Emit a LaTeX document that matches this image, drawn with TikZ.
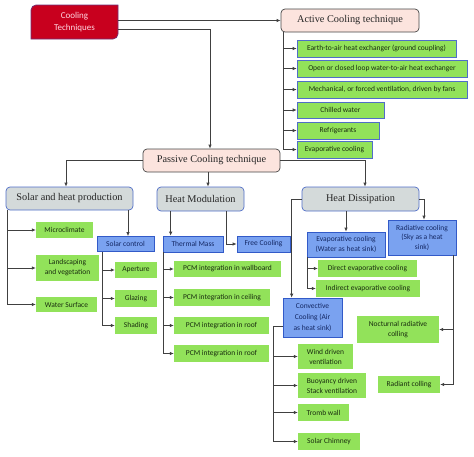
\documentclass[tikz,border=0pt]{standalone}
\usepackage{fontspec}
\setmainfont{Liberation Serif}
\newfontfamily\cfont{Carlito}
\usetikzlibrary{arrows.meta}
\definecolor{redf}{RGB}{200,0,30}
\definecolor{redb}{RGB}{112,48,120}
\definecolor{redt}{RGB}{255,215,225}
\definecolor{pinkf}{RGB}{252,228,222}
\definecolor{pinkb}{RGB}{70,70,70}
\definecolor{grayf}{RGB}{212,218,218}
\definecolor{grayb}{RGB}{80,110,200}
\definecolor{bluef}{RGB}{122,162,240}
\definecolor{blueb}{RGB}{50,90,200}
\definecolor{bluet}{RGB}{20,40,100}
\definecolor{grnf}{RGB}{146,226,90}
\definecolor{grnt}{RGB}{25,45,15}
\definecolor{lnc}{RGB}{64,64,64}
\tikzset{
  boxbase/.style={inner sep=0pt, align=center, anchor=center},
  gbox/.style={boxbase, fill=grnf, text=grnt, font=\cfont\fontsize{7.5}{10}\selectfont},
  gboxb/.style={gbox, draw=grayb, line width=0.6pt},
  bbox/.style={boxbase, fill=bluef, draw=blueb, line width=0.7pt, text=bluet, font=\cfont\fontsize{7.5}{10}\selectfont},
  pbox/.style={boxbase, fill=pinkf, draw=pinkb, line width=0.7pt, rounded corners=4pt, text=black!85, font=\fontsize{10.3}{12}\selectfont},
  hbox/.style={boxbase, fill=grayf, draw=grayb, line width=0.7pt, rounded corners=4pt, text=black!85, font=\fontsize{10.3}{12}\selectfont},
  ln/.style={draw=lnc, line width=0.7pt},
  arr/.style={ln, -{Latex[length=4pt,width=3.5pt]}},
}
\begin{document}
\begin{tikzpicture}[x=1pt,y=-1pt]
\useasboundingbox (0,0) rectangle (474,456);
% Cooling techniques box (diagonal rounded corners)
\filldraw[fill=redf, draw=redb, line width=0.7pt] (36,5) -- (118,5) -- (118,34) arc[start angle=0,end angle=90,radius=5] -- (31,39) -- (31,10) arc[start angle=180,end angle=270,radius=5] -- cycle;
\node[boxbase, minimum width=87pt, minimum height=34pt, text=redt, font=\cfont\fontsize{9}{12}\selectfont] (cool) at (74.5,22) {Cooling\\Techniques};

% Active
\node[pbox, minimum width=138pt, minimum height=23pt] (active) at (350,20.5) {Active Cooling technique};
\node[gboxb, minimum width=159pt, minimum height=17pt] (a1) at (376.5,48.5) {Earth-to-air heat exchanger (ground coupling)};
\node[gboxb, minimum width=170pt, minimum height=17pt] (a2) at (382,68.5) {Open or closed loop water-to-air heat exchanger};
\node[gboxb, minimum width=170pt, minimum height=17pt] (a3) at (382,89.5) {Mechanical, or forced ventilation, driven by fans};
\node[gboxb, minimum width=87pt, minimum height=16pt] (a4) at (340.5,110) {Chilled water};
\node[gboxb, minimum width=82pt, minimum height=17pt] (a5) at (338,130.5) {Refrigerants};
\node[gboxb, minimum width=75pt, minimum height=17pt] (a6) at (334.5,149.5) {Evaporative cooling};

% Passive
\node[pbox, minimum width=137pt, minimum height=23pt] (passive) at (211.5,160.5) {Passive Cooling technique};
\node[hbox, minimum width=127pt, minimum height=23pt] (solar) at (69.5,198.5) {Solar and heat production};
\node[hbox, minimum width=87pt, minimum height=24pt] (hm) at (200.5,199) {Heat Modulation};
\node[hbox, minimum width=117pt, minimum height=24pt] (hd) at (360.5,199) {Heat Dissipation};

% Solar children
\node[gbox, minimum width=57pt, minimum height=16pt] (micro) at (64.5,230) {Microclimate};
\node[gbox, minimum width=63pt, minimum height=26pt] (land) at (67.5,268) {Landscaping\\and vegetation};
\node[gbox, minimum width=61pt, minimum height=15pt] (water) at (66.5,304.5) {Water Surface};
\node[bbox, minimum width=57pt, minimum height=15pt] (sc) at (125.5,244) {Solar control};
\node[gbox, minimum width=42pt, minimum height=16pt] (aper) at (136,270) {Aperture};
\node[gbox, minimum width=42pt, minimum height=17pt] (glaz) at (136,298.5) {Glazing};
\node[gbox, minimum width=42pt, minimum height=17pt] (shad) at (136,325.5) {Shading};

% Heat modulation children
\node[bbox, minimum width=60pt, minimum height=16pt] (tm) at (193,244) {Thermal Mass};
\node[bbox, minimum width=53pt, minimum height=16pt] (fc) at (263.5,244) {Free Cooling};
\node[gbox, minimum width=107pt, minimum height=16pt] (pcm1) at (227.5,269) {PCM integration in wallboard};
\node[gbox, minimum width=96pt, minimum height=17pt] (pcm2) at (222,297.5) {PCM integration in ceiling};
\node[gbox, minimum width=95pt, minimum height=17pt] (pcm3) at (221.5,325.5) {PCM integration in roof};
\node[gbox, minimum width=95pt, minimum height=17pt] (pcm4) at (221.5,353.5) {PCM integration in roof};

% Heat dissipation children
\node[bbox, minimum width=78pt, minimum height=25pt] (evap) at (346,244.5) {Evaporative cooling\\(Water as heat sink)};
\node[bbox, minimum width=68pt, minimum height=35pt, font=\cfont\fontsize{7.5}{9.5}\selectfont] (rad) at (422,237.5) {Radiative cooling\\(Sky as a heat\\sink)};
\node[gbox, minimum width=99pt, minimum height=17pt] (direct) at (367.5,268.5) {Direct evaporative cooling};
\node[gbox, minimum width=104pt, minimum height=17pt] (indirect) at (368,288.5) {Indirect evaporative cooling};
\node[bbox, minimum width=59pt, minimum height=39pt, font=\cfont\fontsize{7.5}{11}\selectfont] (conv) at (312.5,317.5) {Convective\\Cooling (Air\\as heat sink)};
\node[gbox, minimum width=55pt, minimum height=25pt] (wind) at (325.5,356.5) {Wind driven\\ventilation};
\node[gbox, minimum width=68pt, minimum height=25pt] (buoy) at (332,385.5) {Buoyancy driven\\Stack ventilation};
\node[gbox, minimum width=51pt, minimum height=17pt] (tromb) at (323.5,412.5) {Tromb wall};
\node[gbox, minimum width=62pt, minimum height=17pt] (chim) at (329,441.5) {Solar Chimney};
\node[gbox, minimum width=82pt, minimum height=27pt] (noct) at (398,329.5) {Nocturnal radiative\\colling};
\node[gbox, minimum width=62pt, minimum height=17pt] (radiant) at (409,384.5) {Radiant colling};

% Connectors: top level
\draw[arr] (cool.east |- active.west) -- (active.west);
\draw[arr] ([yshift=-7pt]cool.east) -| ([xshift=-1.5pt]passive.north);
% Active list
\coordinate (av) at ([xshift=3pt]active.south west);
\draw[ln] (av) -- (av |- a6.west);
\foreach \n in {a1,a2,a3,a4,a5,a6} \draw[arr] (av |- \n.west) -- (\n.west);
% Passive to categories
\draw[arr] (passive.west) -| ([xshift=-3.5pt]solar.north);
\draw[arr] ([xshift=-3.5pt]passive.south) -- ([xshift=-3.5pt]passive.south |- hm.north);
\draw[arr] (passive.east) -| ([xshift=4.5pt]hd.north);
% Solar
\coordinate (sv) at ([xshift=1.5pt]solar.south west);
\draw[arr] (sv) |- (water.west);
\draw[arr] (sv |- micro.west) -- (micro.west);
\draw[arr] (sv |- land.west) -- (land.west);
\draw[arr] ([xshift=2.5pt]sc.north |- solar.south) -- ([xshift=2.5pt]sc.north);
\coordinate (scv) at ([xshift=6pt]sc.south west);
\draw[arr] (scv) |- (shad.west);
\draw[arr] (scv |- aper.west) -- (aper.west);
\draw[arr] (scv |- glaz.west) -- (glaz.west);
% Heat modulation
\draw[arr] ([xshift=8pt]tm.north west |- hm.south) -- ([xshift=8pt]tm.north west);
\draw[arr] ([xshift=25.5pt]hm.south) |- (fc.west);
\coordinate (tv) at ([xshift=1pt]tm.south west);
\draw[arr] (tv) |- (pcm4.west);
\foreach \n in {pcm1,pcm2,pcm3} \draw[arr] (tv |- \n.west) -- (\n.west);
% Heat dissipation
\draw[arr] (evap.north |- hd.south) -- (evap.north);
\draw[arr] (hd.east) -| ([xshift=2pt]rad.north);
\draw[arr] (hd.west) -| ([xshift=9pt]conv.north west);
\coordinate (ev) at ([xshift=1pt]evap.south west);
\draw[arr] (ev) |- (indirect.west);
\draw[arr] (ev |- direct.west) -- (direct.west);
\coordinate (cv) at ([shift={(-9pt,-8.5pt)}]conv.west);
\draw[arr] ([yshift=-8.5pt]conv.west) -- (cv) |- (chim.west);
\foreach \n in {wind,buoy,tromb} \draw[arr] (cv |- \n.west) -- (\n.west);
\coordinate (rv) at ([xshift=-3pt]rad.south east);
\draw[arr] (rv) |- (radiant.east);
\draw[arr] (rv |- noct.east) -- (noct.east);
\end{tikzpicture}
\end{document}
